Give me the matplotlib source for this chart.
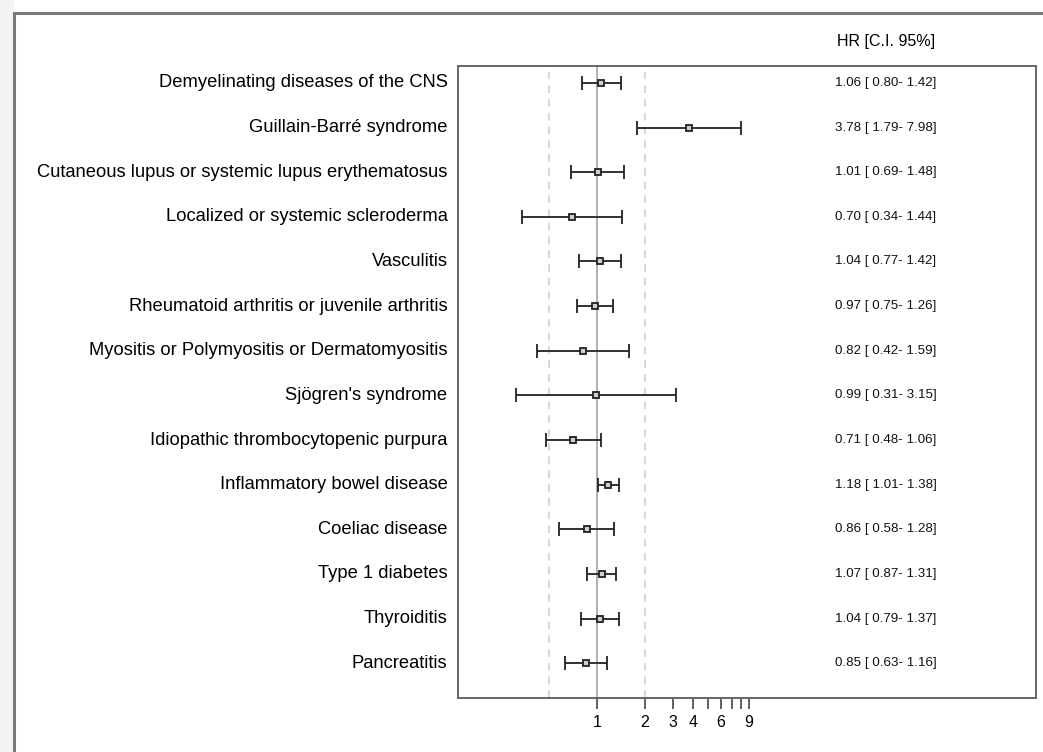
import numpy as np
import matplotlib.pyplot as plt
from matplotlib.patches import Rectangle
from matplotlib.ticker import FixedLocator, NullFormatter, NullLocator

plt.rcParams['font.family'] = ['Liberation Sans', 'DejaVu Sans']

# ===== data =====
labels = [
    "Demyelinating diseases of the CNS",
    "Guillain-Barré syndrome",
    "Cutaneous lupus or systemic lupus erythematosus",
    "Localized or systemic scleroderma",
    "Vasculitis",
    "Rheumatoid arthritis or juvenile arthritis",
    "Myositis or Polymyositis or Dermatomyositis",
    "Sjögren's syndrome",
    "Idiopathic thrombocytopenic purpura",
    "Inflammatory bowel disease",
    "Coeliac disease",
    "Type 1 diabetes",
    "Thyroiditis",
    "Pancreatitis",
]
hr = [1.06, 3.78, 1.01, 0.70, 1.04, 0.97, 0.82, 0.99, 0.71, 1.18, 0.86, 1.07, 1.04, 0.85]
lo = [0.80, 1.79, 0.69, 0.34, 0.77, 0.75, 0.42, 0.31, 0.48, 1.01, 0.58, 0.87, 0.79, 0.63]
hi = [1.42, 7.98, 1.48, 1.44, 1.42, 1.26, 1.59, 3.15, 1.06, 1.38, 1.28, 1.31, 1.37, 1.16]

tick_major = [1, 2, 3, 4, 6, 9]
tick_minor = [5, 7, 8]

# ===== figure =====
W, H = 1043, 752
fig = plt.figure(figsize=(W / 100, H / 100), dpi=100)

# outer window frame (behind the axes)
fig.patches.append(Rectangle((0, 0), 14 / W, 1, transform=fig.transFigure,
                             facecolor='#f3f3f3', edgecolor='none', zorder=-10))
fig.patches.append(Rectangle((14 / W, -0.05), 1.1, 1 - 13 / H + 0.05,
                             transform=fig.transFigure, facecolor='white',
                             edgecolor='#7a7a7a', linewidth=2.2, zorder=-10))

ax = fig.add_axes([458 / W, 1 - 698 / H, (1036 - 458) / W, (698 - 66) / H])
ax.set_facecolor('none')
ax.set_xscale('log')
ax.set_xlim(0.134, 570)
n = len(labels)
y = np.arange(1, n + 1)
ax.set_ylim(n + 0.78, 0.62)

ax.axvline(0.5, color='#cccccc', ls=(0, (5, 4)), lw=1.1, zorder=1)
ax.axvline(2, color='#cccccc', ls=(0, (5, 4)), lw=1.1, zorder=1)
ax.axvline(1, color='#aaaaaa', lw=1.3, zorder=1)

h = np.array(hr)
xerr = [h - np.array(lo), np.array(hi) - h]
ax.errorbar(h, y, xerr=xerr, fmt='s', color='#222222', ecolor='#222222',
            elinewidth=1.3, capsize=5, capthick=1.3, markersize=5,
            markerfacecolor='#d0d0d0', markeredgecolor='#222222',
            markeredgewidth=1.3, zorder=3)

for yi, lab in zip(y, labels):
    ax.text(-0.018, yi, lab, transform=ax.get_yaxis_transform(),
            ha='right', va='center', fontsize=13.2, color='black')
for yi, a, b, c in zip(y, hr, lo, hi):
    ax.text(0.74, yi, f"{a:.2f} [ {b:.2f}- {c:.2f}]",
            transform=ax.get_yaxis_transform(), ha='center', va='center',
            fontsize=9.6, color='#111111')
ax.text(0.74, 1.038, "HR [C.I. 95%]", transform=ax.transAxes,
        ha='center', va='center', fontsize=11.5, color='black')

ax.xaxis.set_major_locator(FixedLocator(tick_major))
ax.xaxis.set_minor_locator(FixedLocator(tick_minor))
ax.xaxis.set_minor_formatter(NullFormatter())
ax.set_xticklabels([str(t) for t in tick_major])
ax.tick_params(axis='x', which='both', direction='out', length=8, width=1.2,
               color='#444444', labelsize=11.5, pad=4)
ax.yaxis.set_major_locator(NullLocator())
for s in ax.spines.values():
    s.set_color('#666666')
    s.set_linewidth(1.4)

fig.savefig('out.png', dpi=100)
